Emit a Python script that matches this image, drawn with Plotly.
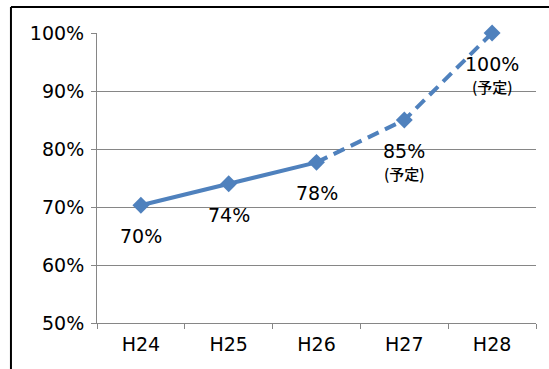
import plotly.graph_objects as go

categories = ["H24", "H25", "H26", "H27", "H28"]
values = [70.3, 74.0, 77.7, 85.0, 100.0]
labels = ["70%", "74%", "78%", "85%", "100%"]
planned = [False, False, False, True, True]
y_ticks = [50, 60, 70, 80, 90, 100]
y_tick_text = ["50%", "60%", "70%", "80%", "90%", "100%"]

color = "#4F81BD"
font = "DejaVu Sans, sans-serif"
cjk = "Noto Sans CJK JP, sans-serif"

fig = go.Figure()
fig.add_trace(go.Scatter(x=categories[:3], y=values[:3], mode="lines",
                         line=dict(color=color, width=4), showlegend=False, hoverinfo="skip",
                         cliponaxis=False))
fig.add_trace(go.Scatter(x=categories[2:], y=values[2:], mode="lines",
                         line=dict(color=color, width=4, dash="12px,7px"), showlegend=False,
                         hoverinfo="skip", cliponaxis=False))
fig.add_trace(go.Scatter(x=categories, y=values, mode="markers",
                         marker=dict(symbol="diamond", size=13, color=color), showlegend=False,
                         cliponaxis=False))

for c, v, lab, p in zip(categories, values, labels, planned):
    fig.add_annotation(x=c, y=v, text=lab, showarrow=False, yanchor="middle", yshift=-31,
                       font=dict(family=font, size=19, color="black"))
    if p:
        fig.add_annotation(x=c, y=v, text="(予定)", showarrow=False, yanchor="middle", yshift=-53,
                           font=dict(family=cjk, size=15, color="black", weight=500))

# outer frame
fig.add_shape(type="line", xref="paper", yref="paper", x0=-0.196, x1=1.1, y0=1.09, y1=1.09,
              line=dict(color="black", width=2))
fig.add_shape(type="line", xref="paper", yref="paper", x0=-0.196, x1=-0.196, y0=1.09, y1=-0.3,
              line=dict(color="black", width=2))

fig.update_layout(
    width=549, height=369,
    margin=dict(l=97, r=13, t=33, b=46),
    paper_bgcolor="white", plot_bgcolor="white",
    font=dict(family=font, size=19, color="black"),
    xaxis=dict(type="category", tickson="boundaries", ticks="outside", ticklen=5,
               tickcolor="#868686", showline=True, linecolor="#868686", linewidth=1,
               showgrid=False, tickfont=dict(size=19), range=[-0.5, 4.5],
               ticklabelstandoff=4),
    yaxis=dict(range=[50, 100], tickvals=y_ticks, ticktext=y_tick_text, ticks="outside",
               ticklen=5, tickcolor="#868686", showline=True, linecolor="#868686", linewidth=1,
               showgrid=True, gridcolor="#868686", gridwidth=1, tickfont=dict(size=19),
               zeroline=False, ticklabelstandoff=3),
)

fig.write_html("out.html")
